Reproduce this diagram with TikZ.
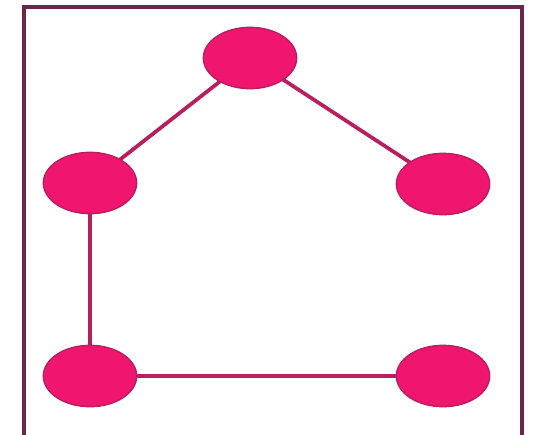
\documentclass[tikz,border=0pt]{standalone}
\usetikzlibrary{shapes.geometric}
\definecolor{nodepink}{RGB}{240,22,112}
\definecolor{edgepink}{RGB}{185,30,95}
\definecolor{framepurple}{RGB}{105,40,75}
\tikzset{vertex/.style={ellipse, fill=nodepink, draw=edgepink, line width=1.2pt, minimum width=2.8cm, minimum height=1.84cm, inner sep=0pt},
  edge/.style={edgepink, line width=3.2pt}}
\begin{document}
\begin{tikzpicture}[x=0.03cm, y=-0.03cm]
\useasboundingbox (0,0) rectangle (553,434); \clip (0,0) rectangle (553,434);
\draw[framepurple, line width=2.8pt] (24,7) rectangle (522,445);
% edges first, vertices drawn on top
\coordinate (ctop) at (250,58); \coordinate (cmidL) at (90,183); \coordinate (cmidR) at (443,184);
\coordinate (cbotL) at (90,376); \coordinate (cbotR) at (443,376);
\draw[edge] (ctop)--(cmidL); \draw[edge] (ctop)--(cmidR); \draw[edge] (cmidL)--(cbotL); \draw[edge] (cbotL)--(cbotR);
\node[vertex] (top) at (ctop) {}; \node[vertex] (midL) at (cmidL) {}; \node[vertex] (midR) at (cmidR) {};
\node[vertex] (botL) at (cbotL) {}; \node[vertex] (botR) at (cbotR) {};
\end{tikzpicture}
\end{document}
